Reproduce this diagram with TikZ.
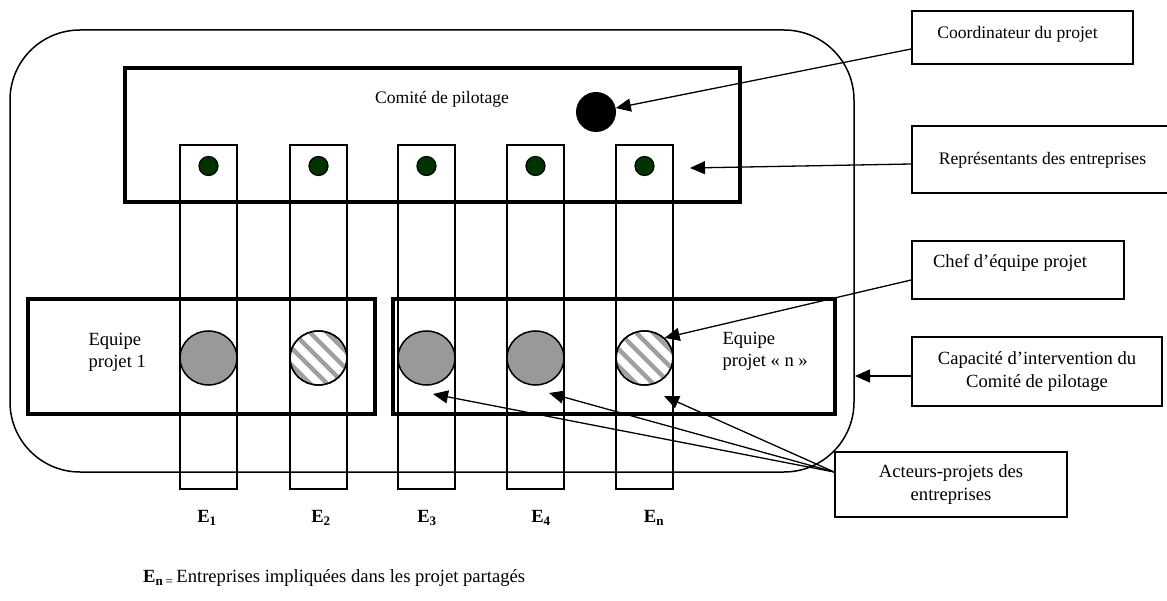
\documentclass[tikz,border=0pt]{standalone}
\usepackage{fontspec}
\setmainfont{Liberation Serif}
\usetikzlibrary{arrows.meta,shapes.geometric}
\definecolor{dkgreen}{HTML}{003300}
\definecolor{memgray}{HTML}{999999}
\definecolor{stripecol}{HTML}{A0A0A0}
\begin{document}
\begin{tikzpicture}[x=1pt,y=-1pt,
  stripbox/.style={draw, line width=1.6pt, minimum width=57pt, minimum height=344pt, inner sep=0pt},
  thickbox/.style={draw, line width=3.5pt, inner sep=0pt},
  txtbox/.style={draw, line width=1.6pt, fill=white, inner sep=0pt, align=center},
  bigtxt/.style={font=\fontsize{18.6}{22.3}\selectfont},
  garatxt/.style={font=\fontsize{17.6}{21}\selectfont},
  boldlab/.style={font=\fontsize{18.6}{22.3}\selectfont\bfseries},
  member/.style={ellipse, draw, line width=1.5pt, minimum width=57pt, minimum height=54pt, inner sep=0pt},
  repdot/.style={circle, draw, line width=1.2pt, fill=dkgreen, minimum size=19pt, inner sep=0pt},
  arr/.style={line width=1.3pt, -{Triangle[length=15pt,width=13pt]}},
]
\useasboundingbox (0,0) rectangle (1167,601);

% outer frame
\node[draw, line width=1.5pt, rounded corners=70pt, minimum width=844pt, minimum height=442pt, inner sep=0pt] (frame) at (432,251) {};

% comite de pilotage
\node[thickbox, minimum width=615pt, minimum height=134pt] (comite) at (432.5,135) {};
\node[garatxt] (comitetxt) at (442,99) {Comité de pilotage};

% team boxes
\node[thickbox, minimum width=347pt, minimum height=115pt] (team1) at (201.5,356.5) {};
\node[thickbox, minimum width=442pt, minimum height=115pt] (teamn) at (614,356.5) {};
\node[bigtxt, anchor=west, align=left] (team1txt) at (85,352) {Equipe\\projet 1};
\node[bigtxt, anchor=west, align=left] (teamntxt) at (719,351) {Equipe\\projet « n »};

% strips
\node[stripbox] (s1) at (208.5,317) {};
\node[stripbox] (s2) at (318.5,317) {};
\node[stripbox] (s3) at (426.5,317) {};
\node[stripbox] (s4) at (535.5,317) {};
\node[stripbox] (s5) at (644.5,317) {};

% representative dots
\foreach \i/\x in {1/208.5,2/318.5,3/426.5,4/535.5,5/644.5}
  \node[repdot] (d\i) at (\x,166) {};

% coordinator dot
\node[circle, fill=black, minimum size=40pt, inner sep=0pt] (bigdot) at (596,112) {};

% team members
\node[member, fill=memgray] (m1) at (208.5,358) {};
\node[member, fill=white] (m2) at (318.5,358) {};
\node[member, fill=memgray] (m3) at (426.5,358) {};
\node[member, fill=memgray] (m4) at (535.5,358) {};
\node[member, fill=white] (m5) at (644.5,358) {};
\foreach \m in {m2,m5} {
  \begin{scope}[shift={(\m.center)}]
    \clip (0,0) ellipse [x radius=28.5pt, y radius=27pt];
    \foreach \k in {-68,-51,...,68}
      \draw[stripecol, line width=4.5pt] (\k-40,-40) -- (\k+40,40);
  \end{scope}
  \draw[line width=1.5pt] (\m.center) ellipse [x radius=28.5pt, y radius=27pt];
}

% labels under strips
\node[boldlab] (e1) at (207,518) {E\textsubscript{1}};
\node[boldlab] (e2) at (321,518) {E\textsubscript{2}};
\node[boldlab] (e3) at (427,518) {E\textsubscript{3}};
\node[boldlab] (e4) at (541,518) {E\textsubscript{4}};
\node[boldlab] (en) at (654,518) {E\textsubscript{n}};

% legend
\node[bigtxt, anchor=west, inner sep=0pt] (legend) at (143,578) {{\bfseries E\textsubscript{n}}\textsubscript{\,=}\,Entreprises impliquées dans les projet partagés};

% text boxes
\node[txtbox, minimum width=221pt, minimum height=53pt] (coordbox) at (1022.5,37.5) {};
\node[garatxt] (coordtxt) at (1017.5,34) {Coordinateur du projet};
\node[txtbox, minimum width=262pt, minimum height=67pt] (repbox) at (1043,159.5) {};
\node[garatxt] (reptxt) at (1042.5,160) {Représentants des entreprises};
\node[txtbox, minimum width=212pt, minimum height=58pt] (chefbox) at (1018,270) {};
\node[bigtxt] (cheftxt) at (1010,263) {Chef d’équipe projet};
\node[txtbox, bigtxt, minimum width=250pt, minimum height=69pt] (capabox) at (1037,371.5) {Capacité d’intervention du\\Comité de pilotage};
\node[txtbox, bigtxt, minimum width=232pt, minimum height=65pt] (actbox) at (951,484.5) {Acteurs-projets des\\entreprises};

% arrows
\coordinate (reptip) at (690,168);
\coordinate (capatip) at (855,376);
\coordinate (a3) at (433,394);
\coordinate (a4) at (549,393);
\coordinate (a5) at (664,396);
\draw[arr] ([yshift=-11.5pt]coordbox.west) -- (bigdot);
\draw[arr] ([yshift=-4.5pt]repbox.west) -- (reptip);
\draw[arr] ([yshift=-10pt]chefbox.west) -- (m5.45);
\draw[arr] ([yshift=-4.5pt]capabox.west) -- (capatip);
\draw[arr] ([yshift=12.5pt]actbox.west) -- (a3);
\draw[arr] ([yshift=12.5pt]actbox.west) -- (a4);
\draw[arr] ([yshift=12.5pt]actbox.west) -- (a5);
\end{tikzpicture}
\end{document}
